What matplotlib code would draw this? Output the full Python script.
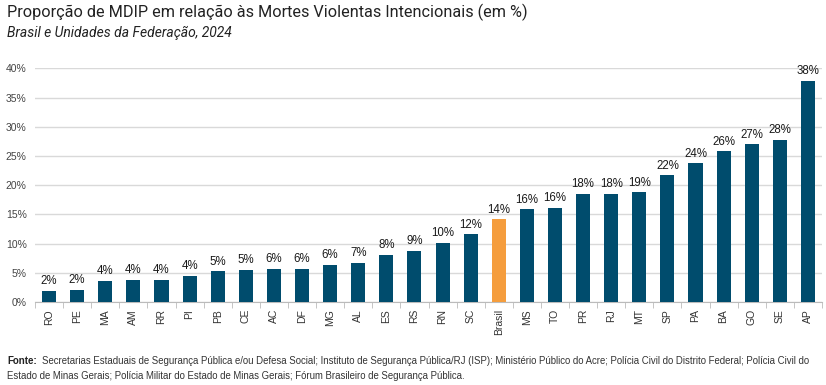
import numpy as np
import matplotlib
matplotlib.use('Agg')
import matplotlib.pyplot as plt
from matplotlib.ticker import FixedLocator

# data
ufs = ['RO', 'PE', 'MA', 'AM', 'RR', 'PI', 'PB', 'CE', 'AC', 'DF', 'MG', 'AL', 'ES', 'RS',
       'RN', 'SC', 'Brasil', 'MS', 'TO', 'PR', 'RJ', 'MT', 'SP', 'PA', 'BA', 'GO', 'SE', 'AP']
valores = [1.9, 2.1, 3.6, 3.8, 3.8, 4.5, 5.3, 5.5, 5.7, 5.7, 6.4, 6.7, 8.1, 8.75,
           10.1, 11.6, 14.2, 15.9, 16.1, 18.5, 18.5, 18.8, 21.7, 23.75, 25.8, 27.0, 27.8, 37.9]
rotulos = ['2%', '2%', '4%', '4%', '4%', '4%', '5%', '5%', '6%', '6%', '6%', '7%', '8%', '9%',
           '10%', '12%', '14%', '16%', '16%', '18%', '18%', '19%', '22%', '24%', '26%', '27%', '28%', '38%']
yticks = [0, 5, 10, 15, 20, 25, 30, 35, 40]

azul = '#004c6d'
laranja = '#f59d3d'
narrow = ['Liberation Sans', 'DejaVu Sans']

fig = plt.figure(figsize=(8.26, 3.85), dpi=100)
ax = fig.add_axes([35 / 826, 1 - 302 / 385, (822 - 35) / 826, (302 - 68.3) / 385])

x = np.arange(len(ufs))
cores = [laranja if u == 'Brasil' else azul for u in ufs]
ax.bar(x, valores, width=0.5, color=cores, zorder=3)

for xi, v, r in zip(x, valores, rotulos):
    ax.text(xi, v + 0.6, r, ha='center', va='bottom', fontsize=8.3,
            family=narrow, color='#1a1a1a', zorder=4)

ax.set_xlim(-0.5, len(ufs) - 0.5)
ax.set_ylim(0, 40)
ax.set_yticks(yticks)
ax.set_yticklabels(['%d%%' % t for t in yticks], family=narrow, fontsize=7.5, color='#444444')
ax.set_xticks(x)
ax.set_xticklabels(ufs, rotation=90, family=narrow, fontsize=7.5, color='#333333')
ax.tick_params(axis='x', which='major', length=0, pad=5)
ax.tick_params(axis='y', length=0, pad=6)
ax.xaxis.set_minor_locator(FixedLocator(np.arange(-0.5, len(ufs), 1.0)))
ax.tick_params(axis='x', which='minor', length=4, color='#bbbbbb')
ax.grid(axis='y', color='#d9d9d9', linewidth=1, zorder=0)
for s in ['top', 'right', 'left']:
    ax.spines[s].set_visible(False)
ax.spines['bottom'].set_color('#bbbbbb')

fig.text(7 / 826, 1 - 12 / 385, 'Proporção de MDIP em relação às Mortes Violentas Intencionais (em %)',
         fontsize=11.7, color='#222222', va='center', family=['Roboto', 'DejaVu Sans'])
fig.text(7 / 826, 1 - 33 / 385, 'Brasil e Unidades da Federação, 2024',
         fontsize=10, color='#222222', va='center', style='italic', family=['Roboto', 'DejaVu Sans'])

fig.text(7 / 826, 1 - 361 / 385, 'Fonte:', fontsize=7, weight='bold', va='center', family=narrow, color='#222222')
fig.text(42 / 826, 1 - 361 / 385,
         'Secretarias Estaduais de Segurança Pública e/ou Defesa Social; Instituto de Segurança Pública/RJ (ISP); '
         'Ministério Público do Acre; Polícia Civil do Distrito Federal; Polícia Civil do',
         fontsize=6.95, va='center', family=narrow, color='#333333')
fig.text(7 / 826, 1 - 376 / 385,
         'Estado de Minas Gerais; Polícia Militar do Estado de Minas Gerais; Fórum Brasileiro de Segurança Pública.',
         fontsize=6.95, va='center', family=narrow, color='#333333')

fig.savefig('out.png', dpi=100)
